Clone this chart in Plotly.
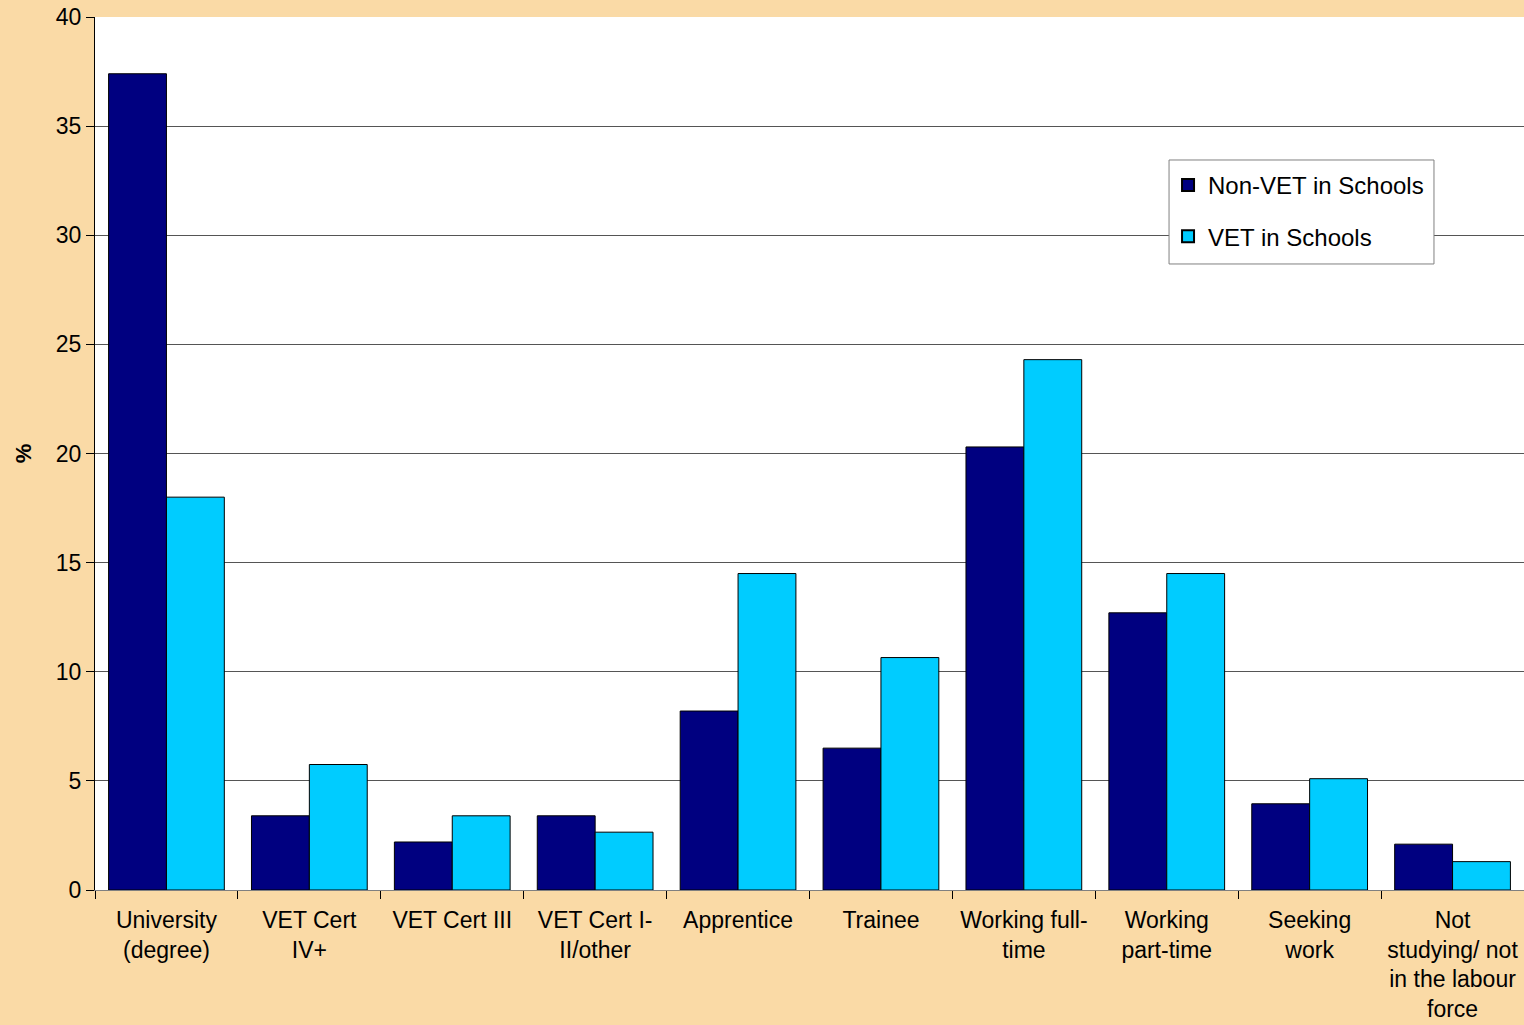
import plotly.graph_objects as go

categories = ["University<br>(degree)", "VET Cert<br>IV+", "VET Cert III", "VET Cert I-<br>II/other",
              "Apprentice", "Trainee", "Working full-<br>time", "Working<br>part-time",
              "Seeking<br>work", "Not<br>studying/ not<br>in the labour<br>force"]
non_vet = [37.4, 3.4, 2.2, 3.4, 8.2, 6.5, 20.3, 12.7, 3.95, 2.1]
vet = [18.0, 5.75, 3.4, 2.65, 14.5, 10.65, 24.3, 14.5, 5.1, 1.3]
y_ticks = [0, 5, 10, 15, 20, 25, 30, 35, 40]

fig = go.Figure()
fig.add_trace(go.Bar(x=categories, y=non_vet, name="Non-VET in Schools", legendgroup="a",
                     marker=dict(color="#000080", line=dict(color="#000000", width=1))))
fig.add_trace(go.Bar(x=categories, y=vet, name="VET in Schools", legendgroup="b",
                     marker=dict(color="#00CCFF", line=dict(color="#000000", width=1))))

# legend frame
fig.add_shape(type="rect", xref="paper", yref="paper",
              x0=0.7516, x1=0.9370, y0=0.7171, y1=0.8362,
              fillcolor="#FFFFFF", line=dict(color="#808080", width=1), layer="above")

fig.update_layout(
    width=1524, height=1025,
    paper_bgcolor="#FADAA6", plot_bgcolor="#FFFFFF",
    margin=dict(l=95, r=0, t=17, b=135),
    barmode="group", bargap=0.19, bargroupgap=0,
    font=dict(family="Liberation Sans, Arial, sans-serif", size=23, color="#000000"),
    showlegend=True,
    legend=dict(x=0.7509, y=0.8328, xanchor="left", yanchor="top",
                bgcolor="rgba(0,0,0,0)", borderwidth=0,
                font=dict(size=24), traceorder="grouped", tracegroupgap=17,
                itemsizing="constant"),
    xaxis=dict(showline=True, linecolor="#808080", linewidth=1, automargin=False,
               ticks="outside", ticklen=8, tickcolor="#000000", tickson="boundaries",
               tickfont=dict(size=23), tickangle=0, ticklabelstandoff=9),
    yaxis=dict(range=[0, 40], tickvals=y_ticks, showgrid=True, gridcolor="#555555", gridwidth=1,
               showline=True, linecolor="#000000", linewidth=1, automargin=False,
               ticks="outside", ticklen=8, tickcolor="#000000",
               tickfont=dict(size=23), zeroline=False,
               title=dict(text="<b>%</b>", font=dict(size=22), standoff=18)),
)
fig.write_html("out.html", config={"displayModeBar": False},
               post_script="document.body.style.margin='0';document.body.style.overflow='hidden';")
